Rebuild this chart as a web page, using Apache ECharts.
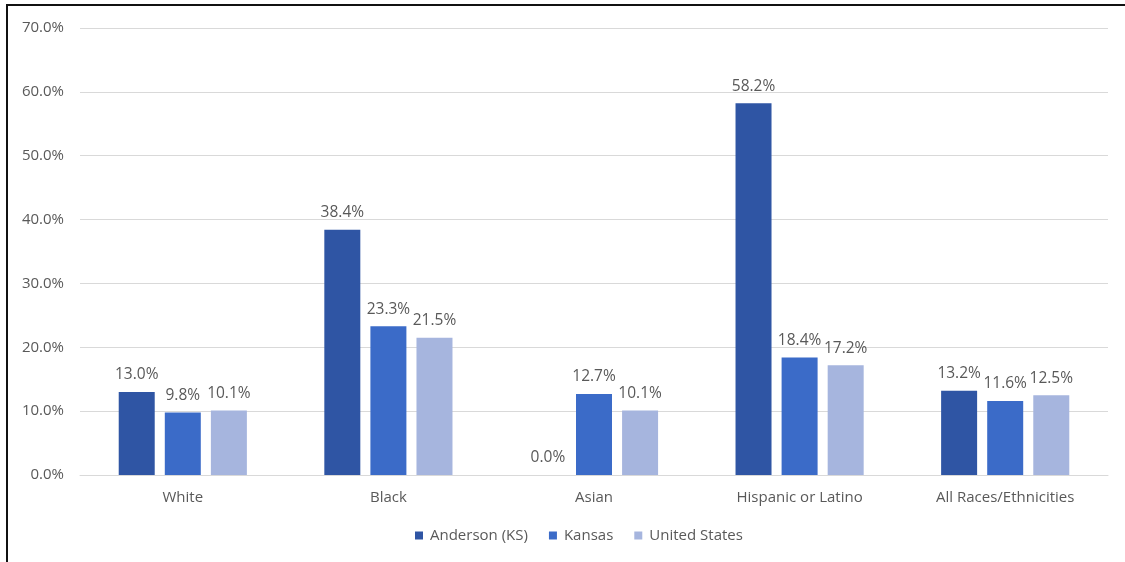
<!DOCTYPE html>
<html><head><meta charset="utf-8">
<script src="https://cdn.jsdelivr.net/npm/echarts@6/dist/echarts.min.js"></script>
<style>
html,body{margin:0;padding:0;background:#fff;}
#c{width:1125px;height:562px;position:relative;}
#frame{position:absolute;left:6px;top:4px;width:1119px;height:558px;border-left:2px solid #111;border-top:2px solid #111;pointer-events:none;}
</style></head>
<body>
<div id="c"></div>
<div id="frame"></div>
<script>
const categories = ['White','Black','Asian','Hispanic or Latino','All Races/Ethnicities'];
const seriesNames = ['Anderson (KS)','Kansas','United States'];
const anderson = [13.0, 38.4, 0.0, 58.2, 13.2];
const kansas = [9.8, 23.3, 12.7, 18.4, 11.6];
const unitedStates = [10.1, 21.5, 10.1, 17.2, 12.5];
const colors = ['#2f55a4','#3b6bc8','#a6b5de'];
const font = '"Open Sans", "Noto Sans", sans-serif';
const chart = echarts.init(document.getElementById('c'));
const mk = (name, data, i) => ({
  name, type:'bar', data, barWidth:36, barGap:'28%',
  itemStyle:{color:colors[i]},
  label:{show:true, position:'top', distance:9, color:'#595959', fontSize:15.5, fontFamily:font,
    formatter:p=>p.value.toFixed(1)+'%'}
});
chart.setOption({
  animation:false,
  color:colors,
  grid:{left:80, right:17, top:28, bottom:87},
  legend:{bottom:14, left:410, itemWidth:8, itemHeight:8, itemGap:21, icon:'rect',
    textStyle:{color:'#595959', fontSize:15, fontFamily:font, padding:[0,0,0,2]},
    data:seriesNames},
  xAxis:{type:'category', data:categories,
    axisLine:{lineStyle:{color:'#d9d9d9'}}, axisTick:{show:false},
    axisLabel:{color:'#595959', fontSize:15, fontFamily:font, margin:15}},
  yAxis:{type:'value', min:0, max:70, interval:10,
    axisLine:{show:false}, axisTick:{show:false},
    splitLine:{lineStyle:{color:'#d9d9d9'}},
    axisLabel:{color:'#595959', fontSize:15, fontFamily:font, margin:16, formatter:v=>v.toFixed(1)+'%'}},
  series:[mk(seriesNames[0],anderson,0), mk(seriesNames[1],kansas,1), mk(seriesNames[2],unitedStates,2)]
});
</script>
</body></html>
